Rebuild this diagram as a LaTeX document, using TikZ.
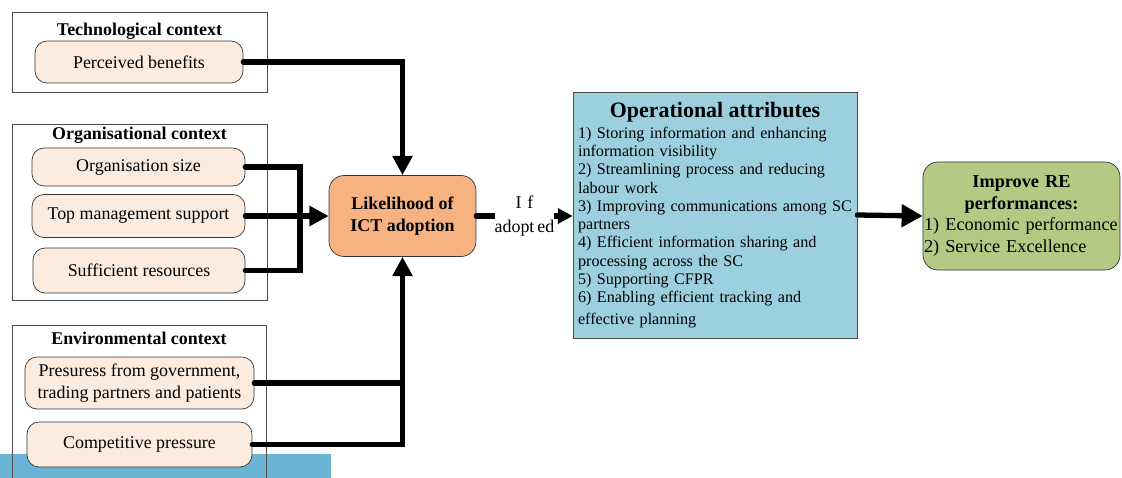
\documentclass[tikz,border=0pt]{standalone}
\usepackage{fontspec}
\setmainfont{Liberation Serif}
\usepackage{tikz}
\usetikzlibrary{arrows.meta,calc,positioning}
\definecolor{peach}{HTML}{FCECE0}
\definecolor{likorange}{HTML}{F6B381}
\definecolor{opblue}{HTML}{9CD0DE}
\definecolor{impgreen}{HTML}{B3C984}
\definecolor{barblue}{HTML}{6AB4D5}

\begin{document}
\begin{tikzpicture}[x=0.02cm, y=-0.02cm,
    font=\fontsize{10.2}{12.3}\selectfont,
    factor/.style={draw=black!80, fill=peach, rounded corners=0.24cm, align=center, inner sep=0pt},
    ctxbox/.style={draw=black!70},
    ctxtitle/.style={font=\fontsize{10.2}{12.3}\selectfont\bfseries},
    link/.style={line width=3pt, line cap=round},
    flow/.style={link, -{Triangle[length=11pt,width=11pt]}}]
      \useasboundingbox (0,0) rectangle (1122,477);
      % Strip along the lower edge
      \fill[barblue] (0,454) rectangle (331,490);
      % Context frames
      \draw[ctxbox] (12,12) rectangle (267,92);
      \draw[ctxbox] (12,124) rectangle (267,300);
      \draw[ctxbox] (12,490) -- (12,325) -- (266,325) -- (266,490);
      \node[ctxtitle] (techtitle) at (139.5,31) {Technological context};
      \node[ctxtitle] (orgtitle) at (139.5,135) {Organisational context};
      \node[ctxtitle] (envtitle) at (139,338) {Environmental context};
      % Factors
      \node[factor, minimum width=4.16cm, minimum height=0.84cm] (perc) at (139,62) {Perceived benefits};
      \node[factor, minimum width=4.26cm, minimum height=0.76cm] (orgsize) at (138.5,167) {Organisation size};
      \node[factor, minimum width=4.26cm, minimum height=0.86cm] (topm) at (138.5,216) {Top management support};
      \node[factor, minimum width=4.24cm, minimum height=0.9cm] (suff) at (139,270.5) {Sufficient resources};
      \node[factor, minimum width=4.58cm, minimum height=1.04cm] (press) at (139.5,383) {Presuress from government,\\trading partners and patients};
      \node[factor, minimum width=4.5cm, minimum height=0.9cm] (comp) at (139.5,444.5) {Competitive pressure};
      % Adoption and outcomes
      \node[draw=black!80, fill=likorange, rounded corners=0.3cm, minimum width=2.94cm, minimum height=1.62cm,
        align=center, font=\fontsize{10.2}{12.4}\selectfont\bfseries] (lik) at (402.5,216) {Likelihood of\\ICT adoption};
      \node[draw=black!70, fill=opblue, minimum width=5.68cm, minimum height=4.92cm, text width=5.48cm,
        inner xsep=0.1cm, inner ysep=0.08cm, font=\fontsize{9.2}{10.4}\selectfont] (opr) at (715,215)
        {{\centering\fontsize{12.5}{15}\selectfont\bfseries Operational attributes\par}\vspace{1.5pt}\raggedright
         1) Storing information and enhancing\\
         information visibility\\
         2) Streamlining process and reducing\\
         labour work\\
         \mbox{3) Improving communications among SC}\\
         partners\\
         4) Efficient information sharing and\\
         processing across the SC\\
         5) Supporting CFPR\\
         6) Enabling efficient tracking and\\[2pt]
         effective planning};
      \node[draw=black!80, fill=impgreen, rounded corners=0.3cm, minimum width=3.94cm, minimum height=2.16cm,
        text width=3.9cm, inner xsep=0.02cm, font=\fontsize{10.4}{12.3}\selectfont] (imp) at (1021.5,216)
        {{\centering\bfseries Improve RE\\ performances:\par}\raggedright
         1) Economic performance\\
         2) Service Excellence};
      % Technological link
      \draw[flow] (perc.east) -| (lik.north);
      % Organisational links
      \coordinate (orgjoin) at (300,216);
      \draw[link] (orgsize.east) -| (orgjoin) |- (suff.east);
      \draw[flow] (topm.east) -- (lik.west);
      % Environmental links
      \draw[link] (press.east) -- (press.east -| lik.south);
      \draw[flow] (comp.east) -| (lik.south);
      % Adoption to attributes to performance
      \draw[link, -{Triangle[length=8.5pt,width=8.5pt]}] (lik.east) -- (lik.east -| opr.west)
        node[midway, fill=white, inner xsep=0pt, align=center, font=\fontsize{10.2}{13.6}\selectfont] (adopt) {I\,\,f\\adopt\,ed};
      \draw[link, -{Triangle[length=12pt,width=12.5pt]}] (opr.east) -- (imp.west);
\end{tikzpicture}
\end{document}
